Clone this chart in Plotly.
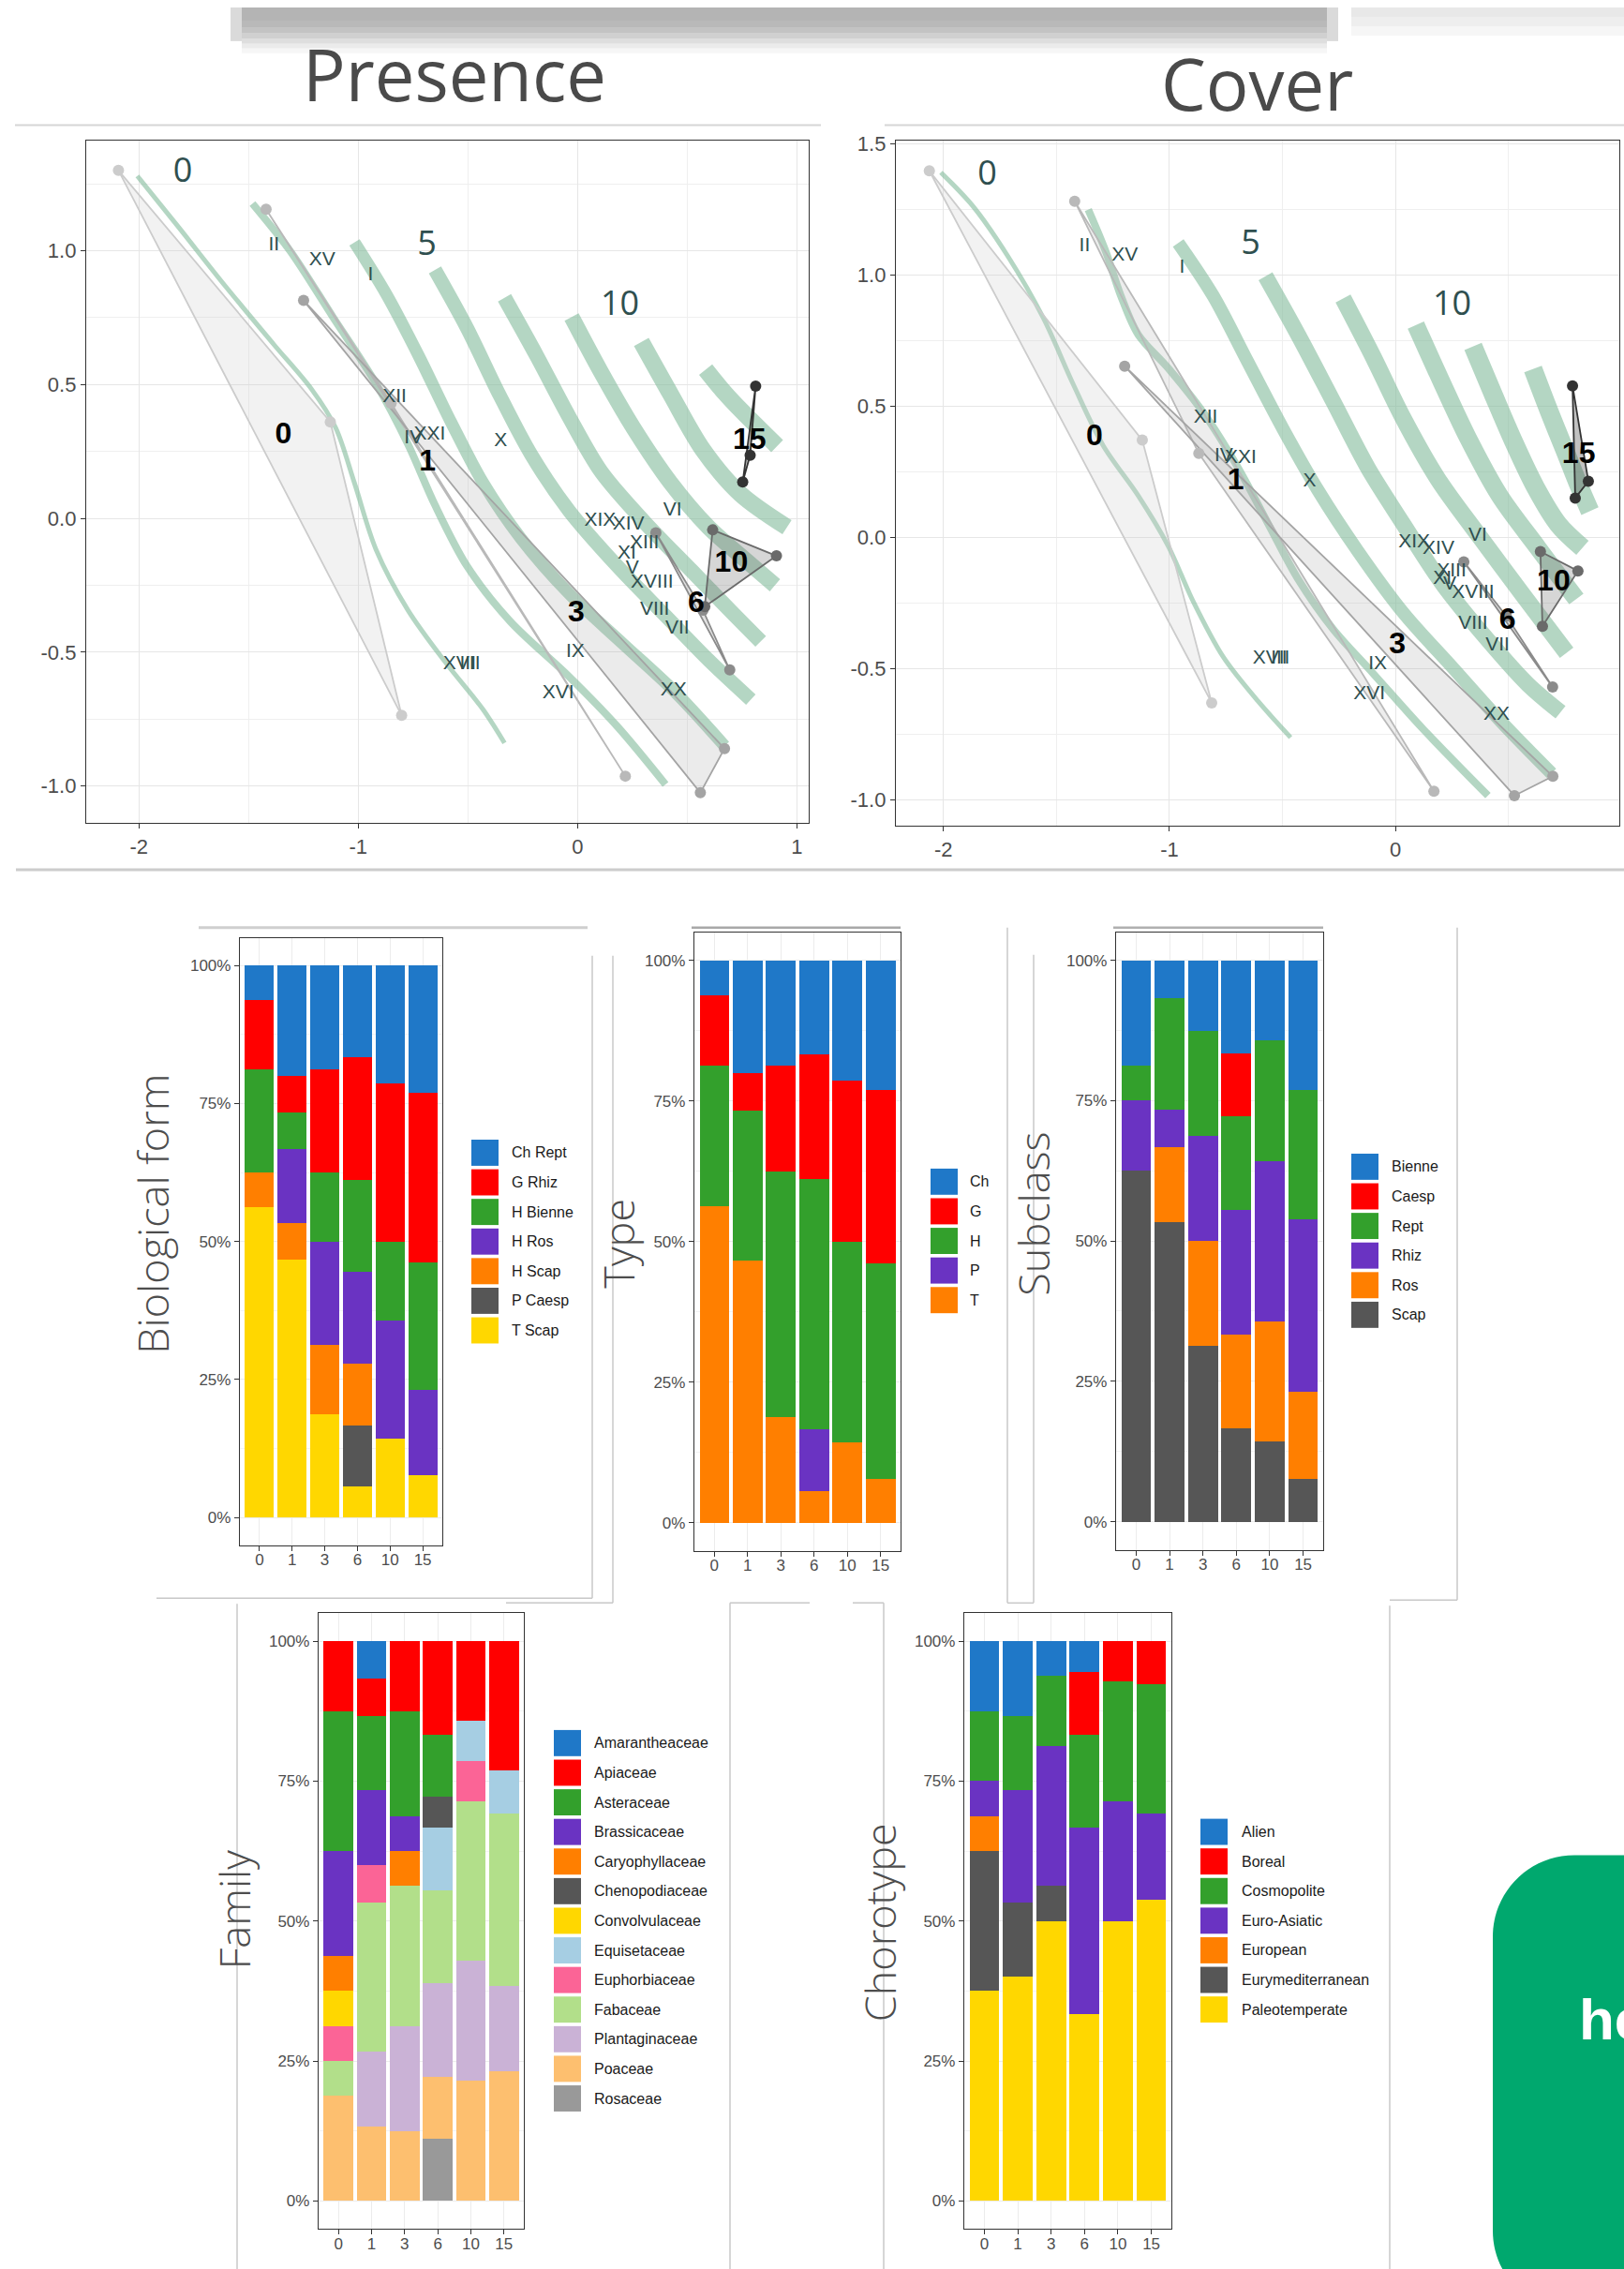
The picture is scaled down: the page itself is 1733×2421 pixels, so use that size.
import plotly.graph_objects as go

W, H = 1733, 2421


def fx(p):
    return p / W


def fy(p):
    return 1 - p / H


# ======================= ORDINATION DATA =======================
group_names = ["0", "1", "3", "6", "10", "15"]
group_colors = ["#cccccc", "#b9b9b9", "#a4a4a4", "#8b8b8b", "#6a6a6a", "#333333"]
group_fills = ["rgba(204,204,204,0.25)", "rgba(185,185,185,0.25)", "rgba(164,164,164,0.22)",
               "rgba(139,139,139,0.25)", "rgba(106,106,106,0.28)", "rgba(51,51,51,0.3)"]

# Presence: site scores (hull vertices) per group
pres_hull_x = [[-2.093, -1.127, -0.802], [-1.42, -0.85, 0.218], [-1.249, 0.67, 0.56],
               [0.357, 0.694, 0.572], [0.616, 0.907, 0.58], [0.812, 0.787, 0.753]]
pres_hull_y = [[1.30, 0.36, -0.736], [1.155, 0.43, -0.963], [0.814, -0.86, -1.025],
               [-0.054, -0.566, -0.343], [-0.043, -0.14, -0.33], [0.494, 0.236, 0.136]]

# Cover: site scores (hull vertices) per group
cover_hull_x = [[-2.062, -1.12, -0.813], [-1.419, -0.87, 0.17], [-1.198, 0.696, 0.526],
                [0.302, 0.695, 0.49], [0.641, 0.807, 0.65], [0.783, 0.853, 0.795]]
cover_hull_y = [[1.398, 0.371, -0.631], [1.282, 0.32, -0.968], [0.653, -0.911, -0.985],
                [-0.093, -0.571, -0.30], [-0.054, -0.128, -0.339], [0.578, 0.214, 0.15]]

# species labels
site_names = ["II", "XV", "I", "XII", "IV", "XXI", "X", "XIX", "XIV", "VI", "XIII", "XI", "V",
              "XVIII", "VIII", "VII", "IX", "XVII", "III", "XVI", "XX"]
pres_site_x = [-1.384, -1.164, -0.944, -0.834, -0.748, -0.675, -0.35, 0.103, 0.232, 0.433, 0.305,
               0.225, 0.25, 0.34, 0.352, 0.455, -0.01, -0.528, -0.50, -0.088, 0.438]
pres_site_y = [1.02, 0.963, 0.907, 0.452, 0.30, 0.314, 0.287, -0.008, -0.023, 0.029, -0.095,
               -0.132, -0.188, -0.24, -0.343, -0.411, -0.498, -0.545, -0.545, -0.653, -0.643]
cover_site_x = [-1.375, -1.198, -0.944, -0.84, -0.76, -0.685, -0.38, 0.083, 0.19, 0.364, 0.248,
                0.207, 0.24, 0.343, 0.343, 0.451, -0.079, -0.55, -0.515, -0.116, 0.447]
cover_site_y = [1.112, 1.074, 1.028, 0.455, 0.31, 0.303, 0.214, -0.018, -0.046, 0.007, -0.13,
                -0.16, -0.18, -0.214, -0.332, -0.414, -0.485, -0.464, -0.464, -0.6, -0.678]

# ordisurf contour lines
pres_contour_x = [
    [-2.007, -1.824, -1.604, -1.384, -1.213, -1.103, -1.017, -0.919, -0.773, -0.601, -0.430, -0.333],
    [-1.482, -1.311, -1.115, -0.919, -0.773, -0.650, -0.504, -0.308, -0.039, 0.181, 0.401],
    [-1.017, -0.870, -0.724, -0.577, -0.430, -0.259, -0.039, 0.205, 0.450, 0.670],
    [-0.650, -0.504, -0.357, -0.210, -0.039, 0.181, 0.401, 0.597, 0.790],
    [-0.333, -0.186, -0.039, 0.108, 0.303, 0.523, 0.694, 0.835],
    [-0.027, 0.108, 0.254, 0.425, 0.597, 0.768, 0.900],
    [0.291, 0.425, 0.572, 0.743, 0.955],
    [0.584, 0.67, 0.75, 0.91],
]
pres_contour_y = [
    [1.279, 1.093, 0.866, 0.649, 0.483, 0.339, 0.132, -0.116, -0.343, -0.539, -0.715, -0.839],
    [1.176, 1.0, 0.752, 0.504, 0.277, 0.050, -0.178, -0.384, -0.591, -0.777, -0.994],
    [1.031, 0.835, 0.607, 0.360, 0.132, -0.074, -0.281, -0.467, -0.653, -0.85],
    [0.928, 0.711, 0.463, 0.236, 0.029, -0.178, -0.364, -0.529, -0.677],
    [0.824, 0.607, 0.380, 0.174, -0.012, -0.198, -0.343, -0.46],
    [0.752, 0.545, 0.339, 0.132, -0.033, -0.157, -0.250],
    [0.659, 0.463, 0.256, 0.091, -0.033],
    [0.556, 0.47, 0.40, 0.27],
]
cover_contour_x = [
    [-2.011, -1.867, -1.713, -1.558, -1.425, -1.293, -1.138, -1.006, -0.895, -0.762, -0.608, -0.464],
    [-1.359, -1.282, -1.215, -1.138, -1.006, -0.851, -0.696, -0.564, -0.431, -0.276, -0.099, 0.122, 0.409],
    [-0.961, -0.807, -0.652, -0.497, -0.343, -0.166, 0.033, 0.254, 0.475, 0.69],
    [-0.575, -0.431, -0.276, -0.122, 0.033, 0.21, 0.409, 0.586, 0.73],
    [-0.232, -0.099, 0.033, 0.188, 0.365, 0.564, 0.757],
    [0.09, 0.20, 0.32, 0.46, 0.63, 0.80],
    [0.343, 0.43, 0.52, 0.62, 0.72, 0.827],
    [0.608, 0.68, 0.75, 0.81, 0.86],
]
cover_contour_y = [
    [1.392, 1.261, 1.07, 0.837, 0.583, 0.35, 0.159, -0.032, -0.244, -0.456, -0.625, -0.763],
    [1.25, 1.091, 0.922, 0.773, 0.646, 0.477, 0.265, 0.053, -0.159, -0.35, -0.519, -0.731, -0.985],
    [1.123, 0.922, 0.667, 0.413, 0.18, -0.053, -0.286, -0.498, -0.71, -0.9],
    [0.996, 0.773, 0.519, 0.265, 0.053, -0.18, -0.392, -0.561, -0.667],
    [0.911, 0.689, 0.456, 0.222, 0.011, -0.22, -0.44],
    [0.81, 0.60, 0.38, 0.16, -0.04, -0.235],
    [0.728, 0.55, 0.37, 0.19, 0.05, -0.04],
    [0.642, 0.48, 0.33, 0.20, 0.10],
]
level_labels = ["0", "5", "10"]
pres_level_x = [-1.80, -0.687, 0.193]
pres_level_y = [1.29, 1.017, 0.793]
cover_level_x = [-1.806, -0.641, 0.25]
cover_level_y = [1.377, 1.112, 0.879]

pres_x_ticks = [-2, -1, 0, 1]
pres_x_ticklabels = ["-2", "-1", "0", "1"]
pres_y_ticks = [-1.0, -0.5, 0.0, 0.5, 1.0]
pres_y_ticklabels = ["-1.0", "-0.5", "0.0", "0.5", "1.0"]
cover_x_ticks = [-2, -1, 0]
cover_x_ticklabels = ["-2", "-1", "0"]
cover_y_ticks = [-1.0, -0.5, 0.0, 0.5, 1.0, 1.5]
cover_y_ticklabels = ["-1.0", "-0.5", "0.0", "0.5", "1.0", "1.5"]

# ======================= BAR DATA (% of species) =======================
bar_categories = ["0", "1", "3", "6", "10", "15"]
pct_ticks = [0, 25, 50, 75, 100]
pct_ticklabels = ["0%", "25%", "50%", "75%", "100%"]

palette = ["#1F78C8", "#FF0000", "#33A02C", "#6A33C2", "#FF7F00", "#565656", "#FFD700",
           "#A6CEE3", "#FB6496", "#B2DF8A", "#CAB2D6", "#FDBF6F", "#999999"]

bio_names = ["Ch Rept", "G Rhiz", "H Bienne", "H Ros", "H Scap", "P Caesp", "T Scap"]
bio_values = [
    [6.25, 20.0, 18.75, 16.67, 21.43, 23.08],
    [12.5, 6.67, 18.75, 22.22, 28.57, 30.77],
    [18.75, 6.67, 12.5, 16.67, 14.29, 23.08],
    [0, 13.33, 18.75, 16.67, 21.43, 15.38],
    [6.25, 6.67, 12.5, 11.11, 0, 0],
    [0, 0, 0, 11.11, 0, 0],
    [56.25, 46.67, 18.75, 5.56, 14.29, 7.69],
]
type_names = ["Ch", "G", "H", "P", "T"]
type_values = [
    [6.25, 20.0, 18.75, 16.67, 21.43, 23.08],
    [12.5, 6.67, 18.75, 22.22, 28.57, 30.77],
    [25.0, 26.67, 43.75, 44.44, 35.71, 38.46],
    [0, 0, 0, 11.11, 0, 0],
    [56.25, 46.67, 18.75, 5.56, 14.29, 7.69],
]
subclass_names = ["Bienne", "Caesp", "Rept", "Rhiz", "Ros", "Scap"]
subclass_values = [
    [18.75, 6.67, 12.5, 16.67, 14.29, 23.08],
    [0, 0, 0, 11.11, 0, 0],
    [6.25, 20.0, 18.75, 16.67, 21.43, 23.08],
    [12.5, 6.67, 18.75, 22.22, 28.57, 30.77],
    [0, 13.33, 18.75, 16.67, 21.43, 15.38],
    [62.5, 53.33, 31.25, 16.67, 14.29, 7.69],
]
family_names = ["Amarantheaceae", "Apiaceae", "Asteraceae", "Brassicaceae", "Caryophyllaceae",
                "Chenopodiaceae", "Convolvulaceae", "Equisetaceae", "Euphorbiaceae", "Fabaceae",
                "Plantaginaceae", "Poaceae", "Rosaceae"]
family_values = [
    [0, 6.67, 0, 0, 0, 0],
    [12.5, 6.67, 12.5, 16.67, 14.29, 23.08],
    [25.0, 13.33, 18.75, 11.11, 0, 0],
    [18.75, 13.33, 6.25, 0, 0, 0],
    [6.25, 0, 6.25, 0, 0, 0],
    [0, 0, 0, 5.56, 0, 0],
    [6.25, 0, 0, 0, 0, 0],
    [0, 0, 0, 11.11, 7.14, 7.69],
    [6.25, 6.67, 0, 0, 7.14, 0],
    [6.25, 26.67, 25.0, 16.67, 28.57, 30.77],
    [0, 13.33, 18.75, 16.67, 21.43, 15.38],
    [18.75, 13.33, 12.5, 11.11, 21.43, 23.08],
    [0, 0, 0, 11.11, 0, 0],
]
choro_names = ["Alien", "Boreal", "Cosmopolite", "Euro-Asiatic", "European",
               "Eurymediterranean", "Paleotemperate"]
choro_values = [
    [12.5, 13.33, 6.25, 5.56, 0, 0],
    [0, 0, 0, 11.11, 7.14, 7.69],
    [12.5, 13.33, 12.5, 16.67, 21.43, 23.08],
    [6.25, 20.0, 25.0, 33.33, 21.43, 15.38],
    [6.25, 0, 0, 0, 0, 0],
    [25.0, 13.33, 6.25, 0, 0, 0],
    [37.5, 40.0, 50.0, 33.33, 50.0, 53.85],
]

# ======================= FIGURE =======================
fig = go.Figure()
band_color = "rgba(125,185,152,0.58)"
pres_band_widths = [5, 8, 13, 15, 16, 17, 18, 18]
cover_band_widths = [5, 8, 14, 17, 18, 19, 20, 20]
SITE_COL = "#2f4f4f"


def add_ordination(xa, ya, cx, cy, widths, hx, hy, sx, sy, lx, ly):
    for x, y, w in zip(cx, cy, widths):
        fig.add_trace(go.Scatter(x=x, y=y, mode="lines", xaxis=xa, yaxis=ya,
                                 line=dict(color=band_color, width=w, shape="spline", smoothing=0.9),
                                 hoverinfo="skip", showlegend=False))
    for i in range(len(group_names)):
        fig.add_trace(go.Scatter(x=hx[i] + [hx[i][0]], y=hy[i] + [hy[i][0]], mode="lines",
                                 fill="toself", fillcolor=group_fills[i], xaxis=xa, yaxis=ya,
                                 line=dict(color=group_colors[i], width=1.8),
                                 hoverinfo="skip", showlegend=False))
    for i in range(len(group_names)):
        fig.add_trace(go.Scatter(x=hx[i], y=hy[i], mode="markers", xaxis=xa, yaxis=ya,
                                 marker=dict(size=12, color=group_colors[i]),
                                 name=group_names[i], showlegend=False))
    fig.add_trace(go.Scatter(x=sx, y=sy, text=site_names, mode="text", xaxis=xa, yaxis=ya,
                             textfont=dict(family="Liberation Sans", size=21, color=SITE_COL),
                             showlegend=False))
    gx = [sum(v) / len(v) for v in hx]
    gy = [sum(v) / len(v) for v in hy]
    fig.add_trace(go.Scatter(x=gx, y=gy, text=group_names, mode="text", xaxis=xa, yaxis=ya,
                             textfont=dict(family="Liberation Sans", size=32, color="#000000",
                                           weight="bold"),
                             showlegend=False))
    fig.add_trace(go.Scatter(x=lx, y=ly, text=level_labels, mode="text", xaxis=xa, yaxis=ya,
                             textfont=dict(family="Open Sans", size=36, color=SITE_COL),
                             showlegend=False))


add_ordination("x", "y", pres_contour_x, pres_contour_y, pres_band_widths, pres_hull_x,
               pres_hull_y, pres_site_x, pres_site_y, pres_level_x, pres_level_y)
add_ordination("x2", "y2", cover_contour_x, cover_contour_y, cover_band_widths, cover_hull_x,
               cover_hull_y, cover_site_x, cover_site_y, cover_level_x, cover_level_y)

bar_sets = [
    (bio_names, bio_values, "x3", "y3"),
    (type_names, type_values, "x4", "y4"),
    (subclass_names, subclass_values, "x5", "y5"),
    (family_names, family_values, "x6", "y6"),
    (choro_names, choro_values, "x7", "y7"),
]
for names, values, xa, ya in bar_sets:
    for k in reversed(range(len(names))):
        fig.add_trace(go.Bar(x=bar_categories, y=values[k], name=names[k], xaxis=xa, yaxis=ya,
                             marker=dict(color=palette[k], line=dict(width=0)),
                             showlegend=False))

# ======================= AXES =======================
TICKFONT = dict(family="Liberation Sans", color="#4d4d4d")
common = dict(showline=True, mirror=True, linecolor="#333333", linewidth=1.3, ticks="outside",
              ticklen=5, tickwidth=1.1, tickcolor="#333333", zeroline=False, showgrid=True,
              gridcolor="#e6e6e6", gridwidth=1.3, fixedrange=True)
layout_axes = {}


def scatter_axes(n, px0, px1, py0, py1, xr, yr, xt, xtl, yt, ytl):
    sfx = "" if n == 1 else str(n)
    layout_axes["xaxis" + sfx] = dict(common, domain=[fx(px0), fx(px1)], range=xr, tickmode="array",
                                      tickvals=xt, ticktext=xtl, anchor="y" + sfx,
                                      tickfont=dict(TICKFONT, size=22),
                                      minor=dict(tickmode="linear", tick0=0, dtick=0.5, showgrid=True,
                                                 gridcolor="#efefef", gridwidth=0.8))
    layout_axes["yaxis" + sfx] = dict(common, domain=[fy(py1), fy(py0)], range=yr, tickmode="array",
                                      tickvals=yt, ticktext=ytl, anchor="x" + sfx,
                                      tickfont=dict(TICKFONT, size=22),
                                      minor=dict(tickmode="linear", tick0=0, dtick=0.25, showgrid=True,
                                                 gridcolor="#efefef", gridwidth=0.8))


scatter_axes(1, 92, 863, 142, 873, [-2.24, 1.054], [-1.138, 1.413],
             pres_x_ticks, pres_x_ticklabels, pres_y_ticks, pres_y_ticklabels)
scatter_axes(2, 956, 1728, 142, 876, [-2.21, 0.99], [-1.10, 1.515],
             cover_x_ticks, cover_x_ticklabels, cover_y_ticks, cover_y_ticklabels)


def bar_axes(n, px0, px1, py0, py1):
    sfx = str(n)
    layout_axes["xaxis" + sfx] = dict(common, domain=[fx(px0), fx(px1)], type="category",
                                      categoryorder="array", categoryarray=bar_categories,
                                      range=[-0.6, 5.6], anchor="y" + sfx, gridcolor="#ececec",
                                      gridwidth=1.0, tickfont=dict(TICKFONT, size=17),
                                      ticklabelstandoff=-5)
    layout_axes["yaxis" + sfx] = dict(common, domain=[fy(py1), fy(py0)], range=[-5, 105],
                                      tickmode="array", tickvals=pct_ticks, ticktext=pct_ticklabels,
                                      anchor="x" + sfx, gridcolor="#ececec", gridwidth=1.0,
                                      tickfont=dict(TICKFONT, size=17),
                                      minor=dict(tickmode="linear", tick0=12.5, dtick=25,
                                                 showgrid=True, gridcolor="#f3f3f3", gridwidth=0.7))


bar_axes(3, 256, 472, 996, 1646)
bar_axes(4, 741, 961, 990, 1652)
bar_axes(5, 1191, 1412, 990, 1651)
bar_axes(6, 340, 559, 1719, 2378)
bar_axes(7, 1029, 1250, 1719, 2378)

# ======================= DECORATION =======================
shapes = []
annotations = []


def hline(x0, x1, y, color="#c8c8c8", w=1.5):
    shapes.append(dict(type="line", xref="paper", yref="paper", x0=fx(x0), x1=fx(x1),
                       y0=fy(y), y1=fy(y), line=dict(color=color, width=w)))


def vline(x, y0, y1, color="#c8c8c8", w=1.5):
    shapes.append(dict(type="line", xref="paper", yref="paper", x0=fx(x), x1=fx(x),
                       y0=fy(y0), y1=fy(y1), line=dict(color=color, width=w)))


def rect(x0, y0, x1, y1, color):
    shapes.append(dict(type="rect", xref="paper", yref="paper", x0=fx(x0), x1=fx(x1),
                       y0=fy(y1), y1=fy(y0), fillcolor=color, line=dict(width=0), layer="below"))


# blurred header bars at the very top
shadow_steps = [(0, 14, "#b4b4b4"), (14, 21, "#b9b9b9"), (21, 27, "#c3c3c3"), (27, 33, "#d0d0d0"),
                (33, 39, "#dedede"), (39, 44, "#ebebeb"), (44, 49, "#f6f6f6")]
for a, b, c in shadow_steps:
    rect(258, a, 1416, b, c)
rect(246, 0, 258, 36, "#dadada")
rect(1416, 0, 1428, 36, "#dadada")
for a, b, c in [(0, 10, "#e8e8e8"), (10, 20, "#eeeeee"), (20, 30, "#f6f6f6")]:
    rect(1442, a, 1733, b, c)

hline(16, 876, 126, "#d6d6d6", 2)
hline(944, 1733, 126, "#d6d6d6", 2)
hline(17, 1733, 923, "#cccccc", 3)
hline(212, 627, 985, "#cfcfcf", 3)
hline(738, 961, 985, "#a8a8a8", 2.5)
hline(1188, 1412, 985, "#b0b0b0", 2.5)
vline(632, 1015, 1703)
hline(167, 632, 1703)
vline(654, 1015, 1708)
hline(540, 654, 1708)
vline(1075, 985, 1708)
hline(1075, 1103, 1708)
vline(1103, 1014, 1708)
vline(1555, 985, 1705)
hline(1483, 1555, 1705)
vline(253, 1709, 2421)
vline(779, 1708, 2421)
hline(779, 864, 1708)
hline(910, 943, 1708)
vline(943, 1708, 2421)
vline(1483, 1711, 2421)

# green button (rounded rectangle, cut by the page edge)
bx0, by0, bx1, by1, r = 1593, 1978, 1780, 2467, 87
k = 0.5523 * r
path = (f"M {fx(bx0)},{fy(by0 + r)} "
        f"C {fx(bx0)},{fy(by0 + r - k)} {fx(bx0 + r - k)},{fy(by0)} {fx(bx0 + r)},{fy(by0)} "
        f"L {fx(bx1)},{fy(by0)} L {fx(bx1)},{fy(by1)} L {fx(bx0 + r)},{fy(by1)} "
        f"C {fx(bx0 + r - k)},{fy(by1)} {fx(bx0)},{fy(by1 - r + k)} {fx(bx0)},{fy(by1 - r)} Z")
shapes.append(dict(type="path", xref="paper", yref="paper", path=path,
                   fillcolor="#00A86E", line=dict(width=0)))
annotations.append(dict(text="he", x=fx(1683), y=fy(2154), xref="paper", yref="paper",
                        xanchor="left", yanchor="middle", showarrow=False,
                        font=dict(family="Liberation Sans", size=62, color="white", weight="bold")))

# panel titles
for t, x, y in [("Presence", 485, 71), ("Cover", 1341, 81)]:
    annotations.append(dict(text=t, x=fx(x), y=fy(y), xref="paper", yref="paper",
                            xanchor="center", yanchor="middle", showarrow=False,
                            font=dict(family="Open Sans", size=76, color="#4a4a4a")))

# bar chart axis titles
for t, x, y in [("Biological form", 163, 1292), ("Type", 660, 1323), ("Subclass", 1103, 1292),
                ("Family", 249, 2036), ("Chorotype", 938, 2050)]:
    annotations.append(dict(text=t, x=fx(x), y=fy(y), xref="paper", yref="paper",
                            xanchor="center", yanchor="middle", showarrow=False, textangle=-90,
                            font=dict(family="Open Sans", size=45, color="#4d4d4d", weight=300)))

# legends (key squares + labels)
KW, KH, STEP = 29, 28, 31.7
legend_specs = [
    (bio_names, 503, 1212, 544),
    (type_names, 993, 1243, 1033),
    (subclass_names, 1442, 1227, 1483),
    (family_names, 591, 1844, 632),
    (choro_names, 1281, 1939, 1323),
]
for names, kx, ky, tx in legend_specs:
    for i, nm in enumerate(names):
        top = ky + i * STEP
        shapes.append(dict(type="rect", xref="paper", yref="paper", x0=fx(kx), x1=fx(kx + KW),
                           y0=fy(top + KH), y1=fy(top), fillcolor=palette[i], line=dict(width=0)))
        annotations.append(dict(text=nm, x=fx(tx), y=fy(top + KH / 2), xref="paper", yref="paper",
                                xanchor="left", yanchor="middle", showarrow=False,
                                font=dict(family="Liberation Sans", size=16, color="#1a1a1a")))

fig.update_layout(
    width=W, height=H, margin=dict(l=0, r=0, t=0, b=0, pad=0),
    paper_bgcolor="white", plot_bgcolor="white",
    barmode="stack", bargap=0.11,
    font=dict(family="Liberation Sans"),
    showlegend=False, shapes=shapes, annotations=annotations,
    **layout_axes,
)

fig.write_html(
    "out.html",
    config={"displayModeBar": False},
    post_script="document.body.style.margin='0px';document.body.style.padding='0px';"
                "document.body.style.overflow='hidden';",
)
